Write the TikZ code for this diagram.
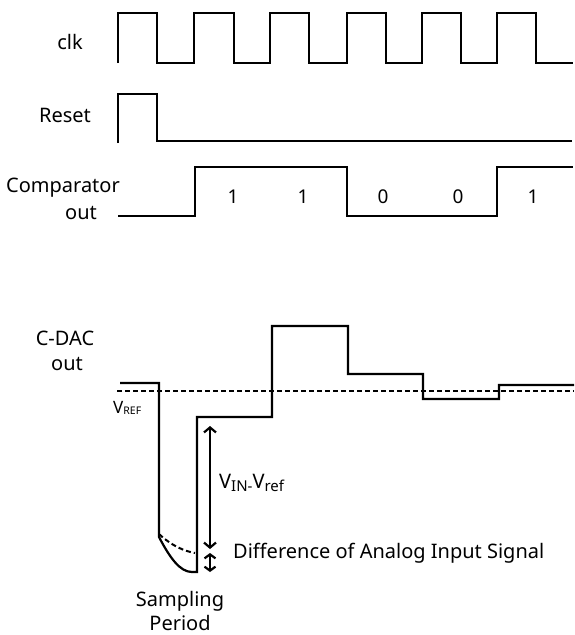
\documentclass[tikz,border=0pt]{standalone}
\usepackage{fontspec}
\setmainfont{Noto Sans}
\usetikzlibrary{arrows.meta}
\newcommand{\mysub}[1]{\raisebox{-3pt}{\fontsize{15}{16}\selectfont #1}}
\begin{document}
\begin{tikzpicture}[x=1pt,y=-1pt,
  wave/.style={line width=2.2pt, line join=miter},
  lbl/.style={font=\fontsize{20}{22}\selectfont, inner sep=0pt},
  bit/.style={font=\fontsize{19}{22}\selectfont, inner sep=0pt},
  dim/.style={line width=2.2pt, {Straight Barb[length=5pt,width=12pt]}-{Straight Barb[length=5pt,width=12pt]}}]
\useasboundingbox (0,0) rectangle (574,635);
% labels
\node[lbl] (lclk) at (70,42) {clk};
\node[lbl] (lreset) at (65,115) {Reset};
\node[lbl] (lcomp) at (63,188) {Comparator};
\node[lbl] (lcout) at (81,213) {out};
\node[lbl] (lcdac) at (65,338) {C-DAC};
\node[lbl] (ldout) at (67,364) {out};
% clock
\draw[wave] (118,63) -- (118,13) -- (157,13) -- (157,63) -- (194,63) -- (194,13) -- (234,13) -- (234,63)
  -- (270,63) -- (270,13) -- (309,13) -- (309,63) -- (347,63) -- (347,13) -- (386,13) -- (386,63)
  -- (422,63) -- (422,13) -- (461,13) -- (461,63) -- (497,63) -- (497,13) -- (536,13) -- (536,63) -- (573,63);
% reset
\draw[wave] (118,143) -- (118,94) -- (157,94) -- (157,141) -- (572,141);
% comparator
\draw[wave] (118,216) -- (195,216) -- (195,167) -- (347,167) -- (347,216) -- (497,216) -- (497,167) -- (573,167);
\node[bit] (b1) at (233,197) {1};
\node[bit] (b2) at (303,197) {1};
\node[bit] (b3) at (383,197) {0};
\node[bit] (b4) at (458,197) {0};
\node[bit] (b5) at (533,197) {1};
% C-DAC
\draw[line width=2pt, dash pattern=on 5pt off 3pt] (117,391) -- (574,391);
\draw[wave] (120,383) -- (159,383) -- (159,537) .. controls (170,558) and (180,572) .. (192,572) -- (197,572)
  -- (197,417) -- (272,417) -- (272,326) -- (348,326) -- (348,374) -- (423,374) -- (423,399)
  -- (499,399) -- (499,385) -- (574,385);
\draw[line width=2pt, dash pattern=on 5pt off 3pt] (159,534) .. controls (172,546) and (184,551) .. (195,553);
\node[inner sep=0pt, anchor=west] (lvref) at (113,408) {\fontsize{17}{18}\selectfont V\raisebox{-1pt}{\fontsize{10.5}{11}\selectfont REF}};
% arrows
\coordinate (a1) at (210,426);
\coordinate (a2) at (210,549);
\coordinate (a3) at (210,553);
\coordinate (a4) at (210,572);
\draw[dim] (a1) -- (a2);
\draw[line width=2.2pt, {Straight Barb[length=4pt,width=11pt]}-{Straight Barb[length=4pt,width=11pt]}] (a3) -- (a4);
\node[lbl, anchor=west] (lvin) at (219,483) {V\mysub{IN-}V\mysub{ref}};
\node[lbl, anchor=west] (ldiff) at (233,553) {Difference of Analog Input Signal};
\node[lbl] (lsamp) at (180,601) {Sampling};
\node[lbl] (lper) at (180,623) {Period};
\end{tikzpicture}
\end{document}
